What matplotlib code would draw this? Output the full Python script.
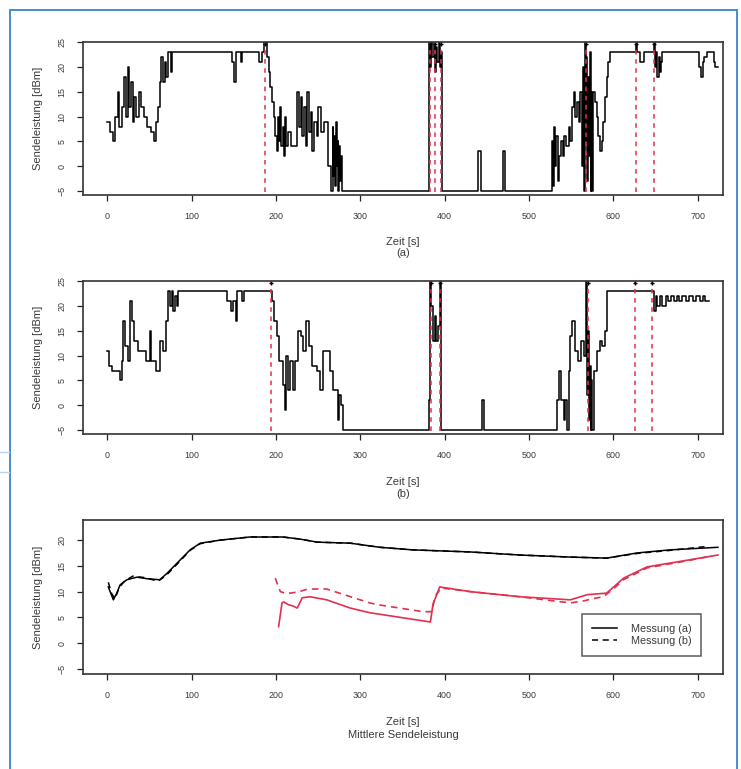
import matplotlib
matplotlib.use("Agg")
import matplotlib.pyplot as plt
from matplotlib.patches import Rectangle
from matplotlib.lines import Line2D

plt.rcParams["font.family"] = ["Liberation Sans", "DejaVu Sans"]

# Messung (a): Sendeleistung über der Zeit (Stufenfunktion, Knickpunkte)
t_a = [0, 3, 6, 9, 12, 14, 17, 20, 22, 24, 26, 28, 30, 32, 34, 37, 40, 43, 47, 52,
       55, 58, 60, 62, 64, 66, 68, 70, 72, 75, 77, 148, 150, 152, 153, 158, 160, 180,
       183, 186, 189, 191, 193, 195, 197, 199, 201, 202, 204, 205, 206, 208, 209, 211,
       212, 214, 218, 225, 227, 229, 231, 233, 235, 237, 239, 241, 243, 245, 248, 250,
       253, 257, 262, 265, 267, 268, 269, 270, 271, 272, 273, 274, 275, 276, 277, 278,
       381, 382, 384, 385, 387, 388, 390, 391, 393, 394, 396, 397, 440, 443, 469, 472,
       527, 528, 529, 531, 532, 534, 536, 538, 540, 542, 544, 547, 549, 551, 553, 555,
       557, 559, 561, 563, 564, 565, 566, 567, 568, 569, 570, 571, 572, 573, 574, 575,
       576, 578, 580, 582, 584, 586, 588, 590, 592, 594, 596, 627, 628, 632, 636, 648,
       649, 651, 652, 654, 655, 657, 658, 702, 704, 706, 708, 711, 719, 721, 724]
p_a = [9, 7, 5, 10, 15, 8, 12, 18, 10, 20, 12, 17, 9, 14, 10, 15, 12, 10, 8, 7,
       5, 9, 12, 17, 22, 17, 21, 18, 23, 19, 23, 21, 17, 19, 23, 21, 23, 21,
       23, 25, 22, 19, 16, 13, 10, 6, 3, 10, 5, 12, 4, 8, 2, 10,
       4, 7, 4, 15, 8, 14, 6, 12, 4, 15, 7, 11, 3, 9, 6, 12,
       7, 9, 0, -5, 8, -2, 6, -4, 9, 0, 5, -5, 4, -3, 2, -5,
       25, 20, 25, 22, 25, 19, 24, 21, 25, 20, 23, -5, 3, -5, 3, -5,
       5, -4, 8, 0, 6, -3, 2, 5, 2, 6, 4, 8, 5, 12, 15, 10,
       13, 9, 15, 0, 20, -5, 25, 5, 22, -3, 18, 2, 23, -5, 15, -5,
       15, 13, 10, 6, 3, 5, 9, 14, 18, 21, 23, 25, 23, 21, 23, 25,
       20, 23, 18, 22, 19, 21, 23, 20, 18, 21, 22, 23, 21, 20, 20]
events_a = [187, 382, 389, 395, 567, 627, 648]

# Messung (b)
t_b = [0, 2, 5, 15, 17, 19, 21, 24, 27, 29, 32, 36, 42, 46, 50, 52, 57, 62, 66, 69,
       72, 74, 76, 78, 80, 82, 84, 142, 146, 149, 152, 154, 159, 162, 195, 198, 201,
       204, 208, 210, 212, 214, 217, 220, 223, 226, 229, 232, 236, 239, 243, 248, 252,
       256, 260, 264, 268, 271, 273, 275, 277, 279, 381, 382, 384, 386, 388, 390, 392,
       394, 395, 444, 447, 533, 535, 538, 541, 543, 545, 547, 549, 551, 554, 558, 562,
       565, 568, 569, 570, 571, 572, 573, 574, 575, 577, 580, 584, 587, 590, 592, 648,
       650, 652, 655, 658, 662, 665, 668, 672, 675, 678, 681, 686, 690, 694, 698, 703,
       706, 709, 713]
p_b = [11, 8, 7, 5, 9, 17, 12, 9, 21, 17, 13, 11, 11, 9, 15, 9, 7, 13, 11, 17,
       23, 20, 23, 19, 22, 20, 23, 21, 19, 21, 17, 23, 21, 23, 21, 17, 14,
       9, 4, -1, 10, 3, 9, 3, 9, 15, 14, 11, 17, 12, 8, 7, 3,
       11, 11, 7, 3, 3, -3, 2, 0, -5, 1, 25, 20, 13, 18, 13, 16,
       25, -5, 1, -5, 1, 7, 1, -3, 1, -5, 7, 14, 17, 11, 9, 13,
       10, 25, 2, 15, -3, 8, -5, 5, -5, 7, 11, 13, 12, 15, 23, 19,
       22, 20, 22, 20, 22, 21, 22, 21, 22, 21, 22, 21, 22, 21, 22, 21,
       22, 21, 21]
events_b = [194, 384, 394, 570, 626, 646]

# Mittlere Sendeleistung
avg_t_a = [1, 7, 11, 15, 23, 35, 47, 62, 71, 83, 98, 110, 134, 169, 208, 228, 249,
           288, 323, 362, 430, 489, 549, 592, 628, 667, 724]
avg_p_a = [10.9, 8.4, 9.7, 11.3, 12.3, 12.8, 12.5, 12.3, 13.6, 15.6, 18.1, 19.4, 20.0,
           20.6, 20.6, 20.2, 19.6, 19.4, 18.6, 18.1, 17.7, 17.1, 16.7, 16.5, 17.5, 18.1,
           18.6]
avg_t_b = [1, 5, 9, 14, 20, 30, 45, 60, 70, 83, 98, 110, 134, 169, 208, 228, 249,
           288, 323, 362, 430, 489, 549, 592, 628, 667, 713]
avg_p_b = [11.8, 9.6, 8.6, 10.8, 12.0, 13.0, 12.7, 12.0, 13.2, 15.4, 18.0, 19.3, 20.0,
           20.6, 20.6, 20.2, 19.6, 19.4, 18.6, 18.1, 17.7, 17.1, 16.7, 16.5, 17.4, 18.0,
           18.8]
avg_red_t_a = [203, 207, 209, 214, 220, 225, 231, 240, 260, 288, 311, 351, 383, 386,
               394, 430, 489, 549, 569, 592, 612, 640, 688, 724]
avg_red_p_a = [3.2, 7.8, 8.0, 7.5, 7.2, 6.8, 8.8, 9.0, 8.4, 6.8, 5.9, 4.9, 4.1, 7.5,
               10.9, 10.0, 9.0, 8.4, 9.4, 9.7, 12.6, 14.8, 16.1, 17.1]
avg_red_t_b = [199, 205, 212, 225, 238, 260, 311, 323, 374, 385, 388, 396, 430, 489,
               549, 565, 575, 588, 600, 612, 640, 688, 713]
avg_red_p_b = [12.6, 10.0, 9.6, 9.9, 10.5, 10.5, 7.8, 7.4, 6.1, 6.1, 9.0, 10.7, 10.0,
               9.0, 7.8, 8.2, 8.6, 9.0, 10.5, 12.3, 14.6, 16.0, 16.8]

xticks = [0, 100, 200, 300, 400, 500, 600, 700]

W, H = 741, 769
RED = "#e2304f"
TXT = "#3a3a3a"
LW = 1.1

fig = plt.figure(figsize=(W / 100, H / 100), dpi=100)


def make_axes(top, bottom):
    left, right = 83, 723
    return fig.add_axes([left / W, 1 - bottom / H, (right - left) / W, (bottom - top) / H])


def style(ax, ylim, yticks):
    ax.set_xlim(-29, 730)
    ax.set_ylim(*ylim)
    ax.set_xticks(xticks)
    ax.set_yticks(yticks)
    ax.tick_params(axis="both", direction="out", length=4.5, width=0.9, colors="#222222",
                   labelcolor=TXT, labelsize=6.4)
    ax.tick_params(axis="x", pad=8)
    ax.tick_params(axis="y", pad=7.5)
    for lab in ax.get_yticklabels():
        lab.set_rotation(90)
        lab.set_va("center")
    for s in ax.spines.values():
        s.set_linewidth(1.2)
        s.set_color("#333333")


def label_text(x, y, s, rot=0):
    fig.text(x / W, 1 - y / H, s, ha="center", va="center", rotation=rot,
             fontsize=8, color=TXT)


power_ticks = [-5, 0, 5, 10, 15, 20, 25]

# (a)
ax1 = make_axes(42, 195)
ax1.plot(t_a, p_a, drawstyle="steps-post", color="black", lw=LW)
for ev in events_a:
    ax1.axvline(ev, color=RED, lw=1.1, ls=(0, (3, 3)), ymin=0.02, ymax=1)
    ax1.plot([ev], [24.6], marker="+", color="black", ms=3.5, mew=1)
style(ax1, (-5.8, 25.05), power_ticks)

# (b)
ax2 = make_axes(281, 434)
ax2.plot(t_b, p_b, drawstyle="steps-post", color="black", lw=LW)
for ev in events_b:
    ax2.axvline(ev, color=RED, lw=1.1, ls=(0, (3, 3)), ymin=0.02, ymax=1)
    ax2.plot([ev], [24.6], marker="+", color="black", ms=3.5, mew=1)
style(ax2, (-5.8, 25.05), power_ticks)

# Mittlere Sendeleistung
ax3 = make_axes(520, 674)
ax3.plot(avg_t_a, avg_p_a, color="black", lw=LW)
ax3.plot(avg_t_b, avg_p_b, color="black", lw=LW, ls=(0, (4, 3)))
ax3.plot(avg_red_t_a, avg_red_p_a, color=RED, lw=1.2)
ax3.plot(avg_red_t_b, avg_red_p_b, color=RED, lw=1.2, ls=(0, (4, 3)))
style(ax3, (-6.0, 23.9), [-5, 0, 5, 10, 15, 20])
handles = [Line2D([], [], color="black", lw=LW),
           Line2D([], [], color="black", lw=LW, ls=(0, (4, 3)))]
leg = ax3.legend(handles, ["Messung (a)", "Messung (b)"], loc="lower right",
                 bbox_to_anchor=(0.966, 0.12), borderaxespad=0, fontsize=7.8,
                 frameon=True, fancybox=False, edgecolor="#333333", handlelength=2.3,
                 labelspacing=0.2, borderpad=0.9, handletextpad=1.3)
leg.get_frame().set_linewidth(1.1)
for txt in leg.get_texts():
    txt.set_color(TXT)

# axis titles
for yc in (118, 357, 597):
    label_text(38, yc, "Sendeleistung [dBm]", rot=90)
label_text(403, 242, "Zeit [s]")
label_text(403, 253, "(a)")
label_text(403, 482, "Zeit [s]")
label_text(403, 494, "(b)")
label_text(403, 722, "Zeit [s]")
label_text(403, 735, "Mittlere Sendeleistung")

# page frame
fig.add_artist(Rectangle((10 / W, -0.01), 727 / W, 1 - 10 / H + 0.01, transform=fig.transFigure,
                         fill=False, edgecolor="#3b82c8", lw=1.3))
for yy in (452, 472):
    fig.add_artist(Line2D([0, 9 / W], [1 - yy / H] * 2, transform=fig.transFigure,
                          color="#b9d3ee", lw=1.0))

fig.savefig("out.png", dpi=100)
